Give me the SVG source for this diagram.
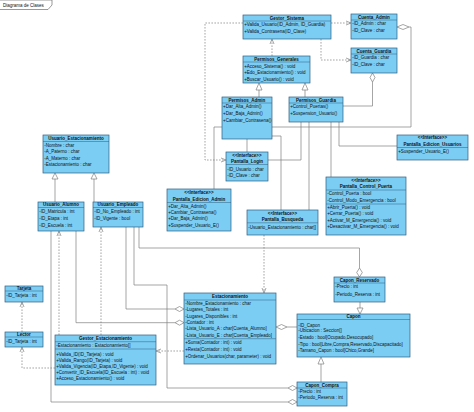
<svg xmlns="http://www.w3.org/2000/svg" width="474" height="412" viewBox="0 0 474 412">
<style>
.b{fill:#7bcdf3;stroke:#2f5f80;stroke-width:0.7}
.s{stroke:#2f5f80;stroke-width:0.5}
text{font-family:"Liberation Sans",Arial,sans-serif;font-size:4.5px;fill:#111}
.h{font-weight:bold;text-anchor:middle}
.c{fill:none;stroke:#7f7f7f;stroke-width:0.7}
.d{stroke-dasharray:1.6,1.4}
.w{fill:#fff;stroke:#7f7f7f;stroke-width:0.7}
.tab{fill:#fff;stroke:#555;stroke-width:0.6}
</style>
<g id="frame">
<path class="tab" d="M0,0H52V5L48,9.5H0"/>
<text x="3" y="6.5">Diagrama de Clases</text>
</g>
<g id="connectors">
<path class="c d" d="M331,23H350"/><polyline class="c" points="346,21 351,23 346,25"/>
<path class="c d" d="M321,39V60H350"/><polyline class="c" points="346,58 351,60 346,62"/>
<path class="c d" d="M272,56V40"/><polyline class="c" points="270,44 272,39 274,44"/>
<path class="c" d="M259,97V90"/><polygon class="w" points="259,83 256,90 262,90"/>
<path class="c" d="M305,97V90"/><polygon class="w" points="305,83 302,90 308,90"/>
<path class="c" d="M409,27H411V127H214V189"/><polygon class="w" points="397,27 403,24.5 409,27 403,29.5"/>
<path class="c" d="M372.5,82V106H343"/><polygon class="w" points="372.5,73 375,77.5 372.5,82 370,77.5"/>
<path class="c" d="M247,139V152"/>
<path class="c" d="M272,136H281V210"/>
<path class="c" d="M301,122V160H268"/>
<path class="c" d="M309,122V210"/>
<path class="c" d="M331,122V177"/>
<path class="c" d="M339,122V146H397"/>
<path class="c d" d="M243,23H205V160H225"/><polyline class="c" points="221,158 226,160 221,162"/>
<path class="c d" d="M264,235V292"/><polyline class="c" points="262,288 264,293 266,288"/>
<path class="c" d="M55,202V179"/><polygon class="w" points="55,173 52,179 58,179"/>
<path class="c" d="M94,202V179"/><polygon class="w" points="94,173 91,179 97,179"/>
<path class="c" d="M139,227V248H359.5V268"/><polygon class="w" points="359.5,268 362.3,272.5 359.5,277 356.7,272.5"/>
<path class="c" d="M134,227V285H167V388H288"/><polygon class="w" points="288,388 292.5,385.5 297,388 292.5,390.5"/>
<path class="c" d="M126,227V309H175"/><polygon class="w" points="175,309 179.5,306.5 184,309 179.5,311.5"/>
<path class="c" d="M51,231V402H288"/><polygon class="w" points="288,402 292.5,399.5 297,402 292.5,404.5"/>
<path class="c" d="M76,231V322.7H175"/><polygon class="w" points="175,322.7 179.5,320.2 184,322.7 179.5,325.2"/>
<path class="c d" d="M59,335V232"/><polyline class="c" points="57,236 59,231 61,236"/>
<path class="c d" d="M101,335V228"/><polyline class="c" points="99,232 101,227 103,232"/>
<path class="c d" d="M55,368H22V348"/><polyline class="c" points="20,352 22,347 24,352"/>
<path class="c d" d="M22,332V303"/><polyline class="c" points="20,307 22,302 24,307"/>
<path class="c d" d="M184,351H157"/><polyline class="c" points="161,349 156,351 161,353"/>
<path class="c" d="M287,327H297"/><polygon class="w" points="276,327 281.5,324.5 287,327 281.5,329.5"/>
<path class="c" d="M360,302V308"/><polygon class="w" points="360,314 357,308 363,308"/>
<path class="c" d="M321,382V364"/><polygon class="w" points="321,357 318,364 324,364"/>
</g>
<g id="gestor_sistema">
<rect class="b" x="243" y="15" width="88" height="24"/><line class="s" x1="243" y1="21" x2="331" y2="21"/>
<text class="h" x="287" y="19.7">Gestor_Sistema</text>
<text x="244.2" y="26">+Valida_Usuario(ID_Admin, ID_Guardia)</text>
<text x="244.2" y="32.5">+Valida_Contrasena(ID_Clave)</text>
</g>
<g id="cuenta_admin">
<rect class="b" x="351" y="14" width="46" height="25"/><line class="s" x1="351" y1="20" x2="397" y2="20"/>
<text class="h" x="374" y="18.6">Cuenta_Admin</text>
<text x="352.2" y="25">-ID_Admin : char</text>
<text x="352.2" y="31.8">-ID_Clave : char</text>
</g>
<g id="cuenta_guardia">
<rect class="b" x="351" y="48" width="46" height="25"/><line class="s" x1="351" y1="54" x2="397" y2="54"/>
<text class="h" x="374" y="52.5">Cuenta_Guardia</text>
<text x="352.2" y="59.3">-ID_Guardia : char</text>
<text x="352.2" y="66">-ID_Clave : char</text>
</g>
<g id="permisos_generales">
<rect class="b" x="243" y="56" width="67" height="27"/><line class="s" x1="243" y1="62" x2="310" y2="62"/>
<text class="h" x="276.5" y="60.8">Permisos_Generales</text>
<text x="244.2" y="67.6">+Acceso_Sistema() : void</text>
<text x="244.2" y="74">+Edo_Estacionamiento() : void</text>
<text x="244.2" y="80.5">+Buscar_Usuario() : void</text>
</g>
<g id="permisos_admin">
<rect class="b" x="222" y="97" width="50" height="42"/><line class="s" x1="222" y1="103" x2="272" y2="103"/>
<text class="h" x="247" y="101.8">Permisos_Admin</text>
<text x="223" y="108">+Dar_Alta_Admin()</text>
<text x="223" y="114.8">+Dar_Baja_Admin()</text>
<text x="223" y="121.5">+Cambiar_Contrasena()</text>
</g>
<g id="permisos_guardia">
<rect class="b" x="289" y="97" width="54" height="25"/><line class="s" x1="289" y1="103" x2="343" y2="103"/>
<text class="h" x="316" y="101.8">Permisos_Guardia</text>
<text x="290.2" y="108.3">+Control_Puertas()</text>
<text x="290.2" y="115">+Suspension_Usuario()</text>
</g>
<g id="pantalla_login">
<rect class="b" x="226" y="152" width="42" height="29"/><line class="s" x1="226" y1="164.5" x2="268" y2="164.5"/>
<text class="h" x="247" y="156.6">&lt;&lt;Interface&gt;&gt;</text>
<text class="h" x="247" y="162.7">Pantalla_Login</text>
<text x="227.2" y="170.6">-ID_Usuario : char</text>
<text x="227.2" y="176.6">-ID_Clave : char</text>
</g>
<g id="pantalla_edicion_admin">
<rect class="b" x="167" y="189" width="64" height="42"/><line class="s" x1="167" y1="202.5" x2="231" y2="202.5"/>
<text class="h" x="199" y="193.6">&lt;&lt;Interface&gt;&gt;</text>
<text class="h" x="199" y="200.6">Pantalla_Edicion_Admin</text>
<text x="168.2" y="207.6">+Dar_Alta_Admin()</text>
<text x="168.2" y="213.6">+Cambiar_Contrasena()</text>
<text x="168.2" y="220">+Dar_Baja_Admin()</text>
<text x="168.2" y="226.6">+Suspender_Usuario_E()</text>
</g>
<g id="pantalla_busqueda">
<rect class="b" x="247" y="210" width="71" height="25"/><line class="s" x1="247" y1="222.8" x2="318" y2="222.8"/>
<text class="h" x="282.5" y="214.8">&lt;&lt;Interface&gt;&gt;</text>
<text class="h" x="282.5" y="221">Pantalla_Busqueda</text>
<text x="248.2" y="229">-Usuario_Estacionamiento : char[]</text>
</g>
<g id="pantalla_edicion_usuarios">
<rect class="b" x="397" y="135" width="71" height="25"/><line class="s" x1="397" y1="147.5" x2="468" y2="147.5"/>
<text class="h" x="432.5" y="139.2">&lt;&lt;Interface&gt;&gt;</text>
<text class="h" x="432.5" y="145.8">Pantalla_Edicion_Usuarios</text>
<text x="398.2" y="153.3">+Suspender_Usuario_E()</text>
</g>
<g id="pantalla_control_puerta">
<rect class="b" x="326" y="177" width="80" height="58"/>
<line class="s" x1="326" y1="190" x2="406" y2="190"/><line class="s" x1="326" y1="204" x2="406" y2="204"/>
<text class="h" x="366" y="181.6">&lt;&lt;Interface&gt;&gt;</text>
<text class="h" x="366" y="188.3">Pantalla_Control_Puerta</text>
<text x="327.2" y="195">-Control_Puerta : bool</text>
<text x="327.2" y="201.6">-Control_Modo_Emergencia : bool</text>
<text x="327.2" y="209">+Abrir_Puerta() : void</text>
<text x="327.2" y="215">+Cerrar_Puerta() : void</text>
<text x="327.2" y="221.6">+Activar_M_Emergencia() : void</text>
<text x="327.2" y="228.3">+Desactivar_M_Emergencia() : void</text>
</g>
<g id="usuario_estacionamiento">
<rect class="b" x="43" y="135" width="66" height="38"/><line class="s" x1="43" y1="141.5" x2="109" y2="141.5"/>
<text class="h" x="76" y="139.9">Usuario_Estacionamiento</text>
<text x="44.2" y="146.6">-Nombre : char</text>
<text x="44.2" y="153.3">-A_Paterno : char</text>
<text x="44.2" y="159.6">-A_Materno : char</text>
<text x="44.2" y="166">-Estacionamiento : char</text>
</g>
<g id="usuario_alumno">
<rect class="b" x="38" y="202" width="46" height="29"/><line class="s" x1="38" y1="207.5" x2="84" y2="207.5"/>
<text class="h" x="61" y="206.3">Usuario_Alumno</text>
<text x="39.2" y="213.3">-ID_Matricula : int</text>
<text x="39.2" y="220">-ID_Etapa : int</text>
<text x="39.2" y="226.6">-ID_Escuela : int</text>
</g>
<g id="usuario_empleado">
<rect class="b" x="93" y="202" width="50" height="25"/><line class="s" x1="93" y1="207.5" x2="143" y2="207.5"/>
<text class="h" x="118" y="206.3">Usuario_Empleado</text>
<text x="94.2" y="213.3">-ID_No_Empleado : int</text>
<text x="94.2" y="220">-ID_Vigente : bool</text>
</g>
<g id="tarjeta">
<rect class="b" x="5" y="286" width="38" height="16"/><line class="s" x1="5" y1="291" x2="43" y2="291"/>
<text class="h" x="24" y="289.9">Tarjeta</text>
<text x="6.2" y="296.5">-ID_Tarjeta : int</text>
</g>
<g id="lector">
<rect class="b" x="5" y="332" width="38" height="15"/><line class="s" x1="5" y1="337" x2="43" y2="337"/>
<text class="h" x="24" y="335.8">Lector</text>
<text x="6.2" y="342.5">-ID_Tarjeta : int</text>
</g>
<g id="gestor_estacionamiento">
<rect class="b" x="55" y="335" width="101" height="50"/>
<line class="s" x1="55" y1="341.7" x2="156" y2="341.7"/><line class="s" x1="55" y1="349" x2="156" y2="349"/>
<text class="h" x="105.5" y="339.9">Gestor_Estacionamiento</text>
<text x="56.2" y="347.3">-Estacionamiento : Estacionamiento[]</text>
<text x="56.2" y="355.6">+Valida_ID(ID_Tarjeta) : void</text>
<text x="56.2" y="361.6">+Valida_Rango(ID_Tarjeta) : void</text>
<text x="56.2" y="367.9">+Valida_Vigencia(ID_Etapa,ID_Vigente) : void</text>
<text x="56.2" y="373.9">+Convertir_ID_Escuela(ID_Escuela : int) : void</text>
<text x="56.2" y="380.3">+Acceso_Estacionamiento() : void</text>
</g>
<g id="estacionamiento">
<rect class="b" x="184" y="293" width="92" height="71"/>
<line class="s" x1="184" y1="300" x2="276" y2="300"/><line class="s" x1="184" y1="338.7" x2="276" y2="338.7"/>
<text class="h" x="230" y="298.3">Estacionamiento</text>
<text x="185.2" y="305">-Nombre_Estacionamiento : char</text>
<text x="185.2" y="311">-Lugares_Totales : int</text>
<text x="185.2" y="317.6">-Lugares_Disponibles : int</text>
<text x="185.2" y="324.3">-Contador : int</text>
<text x="185.2" y="330.3">-Lista_Usuario_A : char[Cuenta_Alumno]</text>
<text x="185.2" y="337">-Lista_Usuario_E : char[Cuenta_Empleado]</text>
<text x="185.2" y="344.3">+Suma(Contador : int) : void</text>
<text x="185.2" y="351">+Resta(Contador : int) : void</text>
<text x="185.2" y="357.6">+Ordenar_Usuarios(char, parameter) : void</text>
</g>
<g id="capon">
<rect class="b" x="297" y="314" width="113" height="43"/><line class="s" x1="297" y1="319.5" x2="410" y2="319.5"/>
<text class="h" x="353.5" y="318.2">Capon</text>
<text x="298.2" y="326.6">-ID_Capon</text>
<text x="298.2" y="332.4">-Ubicacion : Seccion[]</text>
<text x="298.2" y="339">-Estado : bool[Ocupado,Desocupado]</text>
<text x="298.2" y="345.6">-Tipo : bool[Libre,Compra,Reservado,Discapacitado]</text>
<text x="298.2" y="351.8">-Tamano_Capon : bool[Chico,Grande]</text>
</g>
<g id="capon_reservado">
<rect class="b" x="334" y="277" width="51" height="25"/><line class="s" x1="334" y1="283" x2="385" y2="283"/>
<text class="h" x="359.5" y="281.6">Capon_Reservado</text>
<text x="335.2" y="288.3">-Precio : int</text>
<text x="335.2" y="295.6">-Periodo_Reserva : int</text>
</g>
<g id="capon_compra">
<rect class="b" x="297" y="382" width="50" height="24"/><line class="s" x1="297" y1="388" x2="347" y2="388"/>
<text class="h" x="322" y="386.6">Capon_Compra</text>
<text x="298.2" y="393">-Precio : int</text>
<text x="298.2" y="399.2">-Periodo_Reserva : int</text>
</g>
</svg>
